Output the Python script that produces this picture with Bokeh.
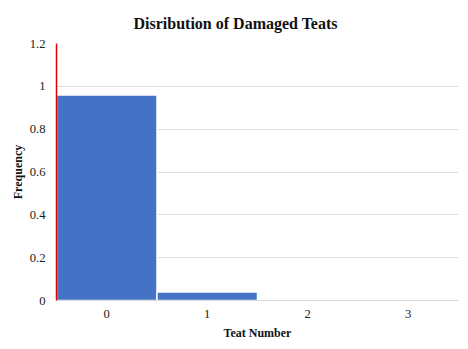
from bokeh.plotting import figure
from bokeh.models import FixedTicker, Range1d
from bokeh.embed import file_html
from bokeh.resources import INLINE

teat_numbers = [0, 1, 2, 3]
frequencies = [0.96, 0.04, 0.0, 0.0]
y_ticks = [0, 0.2, 0.4, 0.6, 0.8, 1.0, 1.2]

FONT = "Liberation Serif"

p = figure(width=468, height=349, output_backend="svg", toolbar_location=None,
           frame_width=402, frame_height=257,
           x_range=Range1d(-0.5, 3.5), y_range=Range1d(0, 1.2),
           min_border_left=56, min_border_right=10, min_border_top=43, min_border_bottom=49,
           title="Disribution of Damaged Teats")

p.vbar(x=teat_numbers, top=frequencies, width=1.0, fill_color="#4472C4",
       line_color="white", line_width=1.5)

p.title.text_font = FONT
p.title.text_font_size = "12pt"
p.title.text_font_style = "bold"
p.title.align = "left"
p.title.offset = 77
p.title.standoff = 23
p.title.text_color = "#111111"

p.outline_line_color = None
p.border_fill_color = "white"
p.xgrid.grid_line_color = None
p.ygrid.grid_line_color = "#e0e0e0"
p.ygrid.ticker = FixedTicker(ticks=y_ticks)

p.yaxis.ticker = FixedTicker(ticks=y_ticks)
p.yaxis.major_label_overrides = {0: "0", 0.2: "0.2", 0.4: "0.4", 0.6: "0.6",
                                 0.8: "0.8", 1.0: "1", 1.2: "1.2"}
p.yaxis.axis_line_color = "#e00000"
p.yaxis.axis_line_width = 1.5
p.yaxis.major_label_standoff = 11
p.yaxis.axis_label = "Frequency"
p.yaxis.axis_label_standoff = 2

p.xaxis.ticker = FixedTicker(ticks=teat_numbers)
p.xaxis.axis_line_color = "#d9d9d9"
p.xaxis.axis_label = "Teat Number"
p.xaxis.major_label_standoff = 9
p.xaxis.axis_label_standoff = 5

for ax in (p.xaxis, p.yaxis):
    ax.major_tick_line_color = None
    ax.minor_tick_line_color = None
    ax.major_tick_out = 0
    ax.major_tick_in = 0
    ax.minor_tick_out = 0
    ax.major_label_text_font = FONT
    ax.major_label_text_font_size = "9.5pt"
    ax.major_label_text_color = "#222222"
    ax.axis_label_text_font = FONT
    ax.axis_label_text_font_size = "9pt"
    ax.axis_label_text_font_style = "bold"
    ax.axis_label_text_color = "#111111"

open("out.html", "w").write(file_html(p, INLINE))
